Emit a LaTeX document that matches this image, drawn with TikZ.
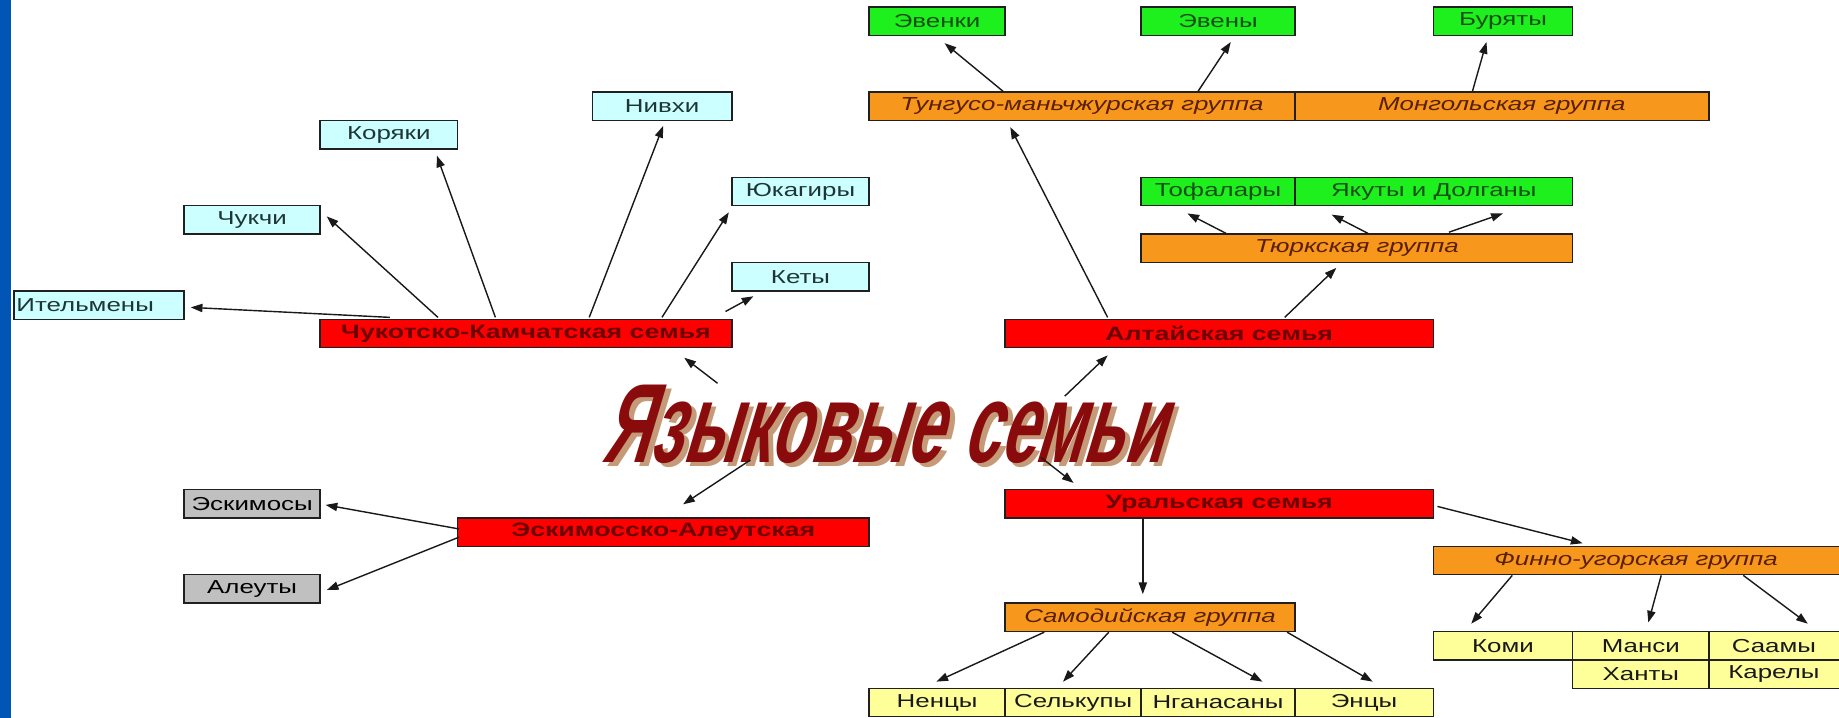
\documentclass[tikz,border=0pt]{standalone}
\usepackage{fontspec}
\setmainfont{Liberation Sans}
\newfontfamily\boxfont[FakeStretch=1.38]{Liberation Sans}
\newfontfamily\titlefont[FakeStretch=0.58,FakeSlant=0.3]{Liberation Sans}
\usetikzlibrary{arrows.meta,calc}
\definecolor{stripblue}{HTML}{0055B5}
\definecolor{cyanfill}{HTML}{CCFFFF}
\definecolor{greenfill}{HTML}{1EF01E}
\definecolor{orangefill}{HTML}{F7981D}
\definecolor{redfill}{HTML}{FF0000}
\definecolor{grayfill}{HTML}{C0C0C0}
\definecolor{yellowfill}{HTML}{FFFF99}
\definecolor{cyantext}{HTML}{1F3535}
\definecolor{greentext}{HTML}{174F17}
\definecolor{orangetext}{HTML}{5A1E00}
\definecolor{redtext}{HTML}{6A0000}
\definecolor{titlered}{HTML}{8A0B0B}
\definecolor{titleshade}{HTML}{C49A78}
\definecolor{boxline}{HTML}{202020}
\newcommand\cellbox[7]{\node[#6, minimum width={#4-#2}, minimum height={#5-#3}] (#1) at ({(#2+#4)/2},{(#3+#5)/2}) {#7};}
\newcommand\titletext{Языковые\hspace{18pt}семьи}
\begin{document}
\begin{tikzpicture}[x=1pt,y=-1pt,
  box/.style={draw=boxline, line width=1.2pt, inner sep=0pt},
  cyanb/.style={box, fill=cyanfill, text=cyantext, font=\boxfont\fontsize{16}{18}\selectfont},
  greenb/.style={box, fill=greenfill, text=greentext, font=\boxfont\fontsize{16}{18}\selectfont},
  orangeb/.style={box, fill=orangefill, text=orangetext, font=\boxfont\itshape\fontsize{16}{18}\selectfont},
  redb/.style={box, fill=redfill, text=redtext, font=\boxfont\bfseries\fontsize{16.5}{18}\selectfont},
  grayb/.style={box, fill=grayfill, text=black, font=\boxfont\fontsize{16}{18}\selectfont},
  yellowb/.style={box, fill=yellowfill, text=black!90, font=\boxfont\fontsize{16}{18}\selectfont},
  arr/.style={draw=black!90, line width=1.2pt, -{Triangle[length=10pt,width=7pt]}},
  titlestyle/.style={inner sep=0pt, text width=480pt, align=center, text height=69pt, text depth=0pt,
     font=\titlefont\bfseries\fontsize{96}{96}\selectfont}
]
\useasboundingbox (0,0) rectangle (1568,612);
\fill[white] (0,0) rectangle (1568,612);
\fill[stripblue] (0,0) rectangle (9,612);
\clip (0,0) rectangle (1568,612);

% title with its shadow
\node[titlestyle, text=titlered] (title) at (752,359.5)
  {\rlap{\hspace{4pt}\raisebox{-4pt}{\color{titleshade}\titletext}}\titletext};

% Chukotko-Kamchatka
\cellbox{itel}{12}{248}{157}{272.2}{cyanb, text width=141pt, align=left, inner xsep=2pt}{Ительмены}
\cellbox{chuk}{157}{175.4}{273}{199.6}{cyanb}{Чукчи}
\cellbox{kor}{273}{102.8}{390}{127}{cyanb}{Коряки}
\cellbox{niv}{505}{78.6}{624}{102.8}{cyanb}{Нивхи}
\cellbox{yuk}{624}{151.2}{741}{175.4}{cyanb}{Юкагиры}
\cellbox{ket}{624}{223.8}{741}{248}{cyanb}{Кеты}
\cellbox{ckfam}{273}{272.2}{624}{296.4}{redb}{Чукотско-Камчатская семья}

% Altai
\cellbox{evenki}{741}{6}{857}{30.2}{greenb}{Эвенки}
\cellbox{eveny}{973}{6}{1104}{30.2}{greenb}{Эвены}
\cellbox{bur}{1222}{6}{1341}{30.2}{greenb}{Буряты}
\cellbox{tung}{741}{78.6}{1104}{102.8}{orangeb}{Тунгусо-маньчжурская группа}
\cellbox{mong}{1104}{78.6}{1457}{102.8}{orangeb}{Монгольская группа}
\cellbox{tof}{973}{151.2}{1104}{175.4}{greenb}{Тофалары}
\cellbox{yak}{1104}{151.2}{1341}{175.4}{greenb}{Якуты и Долганы}
\cellbox{tyurk}{973}{199.6}{1341}{223.8}{orangeb}{Тюркская группа}
\cellbox{alt}{857}{272.2}{1222}{296.4}{redb}{Алтайская семья}

% Eskimo-Aleut
\cellbox{esk}{157}{417.4}{273}{441.6}{grayb}{Эскимосы}
\cellbox{aleut}{157}{490}{273}{514.2}{grayb}{Алеуты}
\cellbox{ea}{390}{441.6}{741}{465.8}{redb}{Эскимосско-Алеутская}

% Ural
\cellbox{ural}{857}{417.4}{1222}{441.6}{redb}{Уральская семья}
\cellbox{fin}{1222}{465.8}{1580}{490}{orangeb}{\hspace*{-12pt}Финно-угорская группа}
\cellbox{samod}{857}{514.2}{1104}{538.4}{orangeb}{Самодийская группа}
\cellbox{nen}{741}{586.8}{857}{611}{yellowb}{Ненцы}
\cellbox{selk}{857}{586.8}{973}{611}{yellowb}{Селькупы}
\cellbox{ngan}{973}{586.8}{1104}{611}{yellowb}{Нганасаны}
\cellbox{enc}{1104}{586.8}{1222}{611}{yellowb}{Энцы}
\cellbox{komi}{1222}{538.4}{1341}{562.6}{yellowb}{Коми}
\cellbox{mansi}{1341}{538.4}{1457}{562.6}{yellowb}{Манси}
\cellbox{saam}{1457}{538.4}{1580}{562.6}{yellowb}{\hspace*{-12pt}Саамы}
\cellbox{hant}{1341}{562.6}{1457}{586.8}{yellowb}{Ханты}
\cellbox{karel}{1457}{562.6}{1580}{586.8}{yellowb}{\hspace*{-12pt}Карелы}

% arrows: Chukotko-Kamchatka
\draw[arr] ($(ckfam.north west)+(60,-1)$) -- ($(itel.east)+(5,2)$);
\draw[arr] ($(ckfam.north west)+(101,-1)$) -- ($(chuk.east)+(5,-3)$);
\draw[arr] ($(ckfam.north west)+(150,-1)$) -- ($(kor.south west)+(100,5)$);
\draw[arr] ($(ckfam.north west)+(230,-1)$) -- ($(niv.south west)+(61,4)$);
\draw[arr] ($(ckfam.north west)+(292,-1)$) -- ($(yuk.south west)+(-2,5)$);
\draw[arr] ($(ckfam.north east)+(-6,-6)$) -- ($(ket.south west)+(19,4)$);
\draw[arr] ($(title.north west)+(100,2)$) -- ($(ckfam.south west)+(311,8)$);

% arrows: Altai
\draw[arr] ($(title.north west)+(396,13)$) -- ($(alt.south west)+(88,6)$);
\draw[arr] ($(alt.north west)+(88,-1)$) -- ($(tung.south west)+(121,5)$);
\draw[arr] ($(alt.north west)+(239,-1)$) -- ($(tyurk.south west)+(167,4)$);
\draw[arr] ($(tung.north west)+(115,0)$) -- ($(evenki.south west)+(65,6)$);
\draw[arr] ($(tung.north west)+(281,0)$) -- ($(eveny.south west)+(77,5)$);
\draw[arr] ($(mong.north west)+(152,0)$) -- ($(bur.south west)+(46,5)$);
\draw[arr] ($(tyurk.north west)+(73,0)$) -- ($(tof.south west)+(40,6)$);
\draw[arr] ($(tyurk.north west)+(194,0)$) -- ($(yak.south west)+(32,7)$);
\draw[arr] ($(tyurk.north west)+(263,-1)$) -- ($(yak.south west)+(178,6)$);

% arrows: Eskimo-Aleut
\draw[arr] ($(title.south west)+(128,-2)$) -- ($(ea.north west)+(193,-11)$);
\draw[arr] ($(ea.north west)+(2,10)$) -- ($(esk.east)+(4,1)$);
\draw[arr] ($(ea.north west)+(2,17)$) -- ($(aleut.east)+(5,1)$);

% arrows: Ural
\draw[arr] ($(title.south west)+(376,-4)$) -- ($(ural.north west)+(59,-5)$);
\draw[arr] ($(ural.south west)+(118,0)$) -- ($(samod.north west)+(118,-7)$);
\draw[arr] ($(ural.north east)+(3,15)$) -- ($(fin.north west)+(128,-2)$);
\draw[arr] ($(samod.south west)+(34,0)$) -- ($(nen.north west)+(58,-5)$);
\draw[arr] ($(samod.south west)+(89,0)$) -- ($(selk.north west)+(50,-5)$);
\draw[arr] ($(samod.south west)+(143,0)$) -- ($(ngan.north west)+(104,-5)$);
\draw[arr] ($(samod.south west)+(241,0)$) -- ($(enc.north west)+(67,-5)$);
\draw[arr] ($(fin.south west)+(68,0)$) -- ($(komi.north west)+(33,-6)$);
\draw[arr] ($(fin.south west)+(195,0)$) -- ($(mansi.north west)+(65,-7)$);
\draw[arr] ($(fin.south west)+(265,0)$) -- ($(saam.north west)+(85,-6)$);
\end{tikzpicture}
\end{document}
